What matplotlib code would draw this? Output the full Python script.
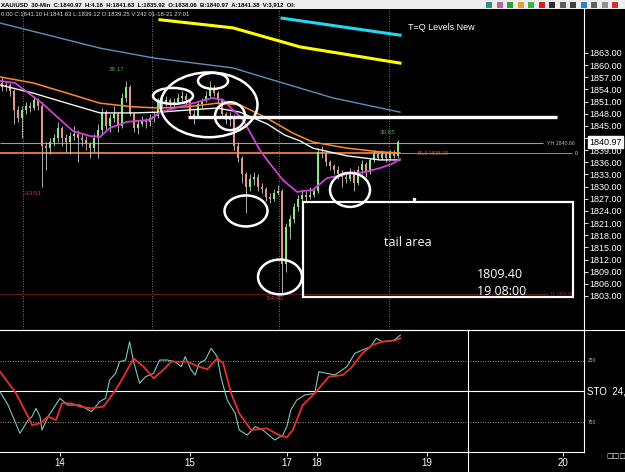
import matplotlib
matplotlib.use("Agg")
import matplotlib.pyplot as plt
import numpy as np
from matplotlib.patches import Ellipse, Rectangle
from matplotlib.lines import Line2D

plt.rcParams["font.family"] = ["Liberation Sans", "DejaVu Sans"]

# ----- XAU/USD 30-min candles (oldest first, bar index = position) -----
first_open = 1855.5
closes = [1854.5, 1855.0, 1853.5, 1849.0, 1847.0, 1849.0, 1850.0, 1849.5, 1851.5, 1850.0,
          1840.0, 1839.5, 1841.0, 1842.0, 1844.5, 1842.0, 1841.0, 1842.5, 1843.0, 1842.0,
          1841.5, 1840.5, 1839.5, 1842.0, 1844.0, 1848.5, 1845.0, 1847.0, 1848.0, 1845.0,
          1852.0, 1854.5, 1848.0, 1844.5, 1845.5, 1846.5, 1846.0, 1847.0, 1847.5, 1851.0,
          1850.5, 1851.5, 1850.5, 1851.0, 1852.0, 1852.5, 1851.5, 1848.0, 1847.5, 1850.5,
          1851.5, 1852.5, 1854.0, 1853.0, 1851.5, 1848.0, 1846.5, 1847.5, 1840.0, 1837.0,
          1833.0, 1830.0, 1832.0, 1832.5, 1830.0, 1829.5, 1827.5, 1827.0, 1828.5, 1829.0,
          1811.0, 1820.0, 1822.0, 1825.0, 1827.0, 1828.0, 1827.5, 1828.0, 1829.0, 1838.5,
          1838.0, 1836.0, 1835.0, 1834.0, 1833.0, 1832.5, 1832.0, 1833.5, 1831.0, 1834.0,
          1835.5, 1833.5, 1836.5, 1838.0, 1837.0, 1838.0, 1837.0, 1838.5, 1837.5, 1840.97]
highs = [1857.0, 1856.0, 1855.5, 1854.0, 1850.0, 1850.0, 1851.0, 1851.0, 1852.5, 1852.0,
         1851.0, 1841.0, 1842.0, 1843.0, 1846.0, 1845.0, 1843.0, 1843.5, 1845.0, 1844.0,
         1843.0, 1842.5, 1841.0, 1843.0, 1845.5, 1849.5, 1849.0, 1848.0, 1850.0, 1848.5,
         1853.0, 1856.0, 1855.0, 1848.5, 1846.5, 1847.5, 1847.0, 1848.0, 1848.5, 1852.0,
         1852.0, 1852.5, 1852.0, 1852.0, 1853.0, 1853.5, 1853.0, 1852.0, 1849.0, 1851.0,
         1852.0, 1853.5, 1856.0, 1855.0, 1853.5, 1852.0, 1848.5, 1848.5, 1848.0, 1841.0,
         1837.5, 1833.5, 1833.0, 1833.5, 1833.0, 1831.0, 1830.0, 1828.5, 1829.5, 1830.5,
         1829.5, 1821.0, 1823.0, 1826.0, 1828.0, 1829.5, 1829.0, 1830.0, 1830.0, 1839.5,
         1840.0, 1838.5, 1836.5, 1835.5, 1835.0, 1834.0, 1833.5, 1834.5, 1834.0, 1835.0,
         1836.5, 1836.0, 1837.0, 1839.0, 1838.5, 1839.0, 1838.5, 1839.0, 1839.0, 1841.63]
lows = [1853.5, 1853.5, 1852.5, 1845.5, 1846.0, 1842.0, 1848.0, 1848.5, 1849.0, 1849.0,
        1830.0, 1834.0, 1838.0, 1840.0, 1841.0, 1840.0, 1838.5, 1838.0, 1841.5, 1836.0,
        1840.0, 1839.0, 1837.0, 1838.5, 1837.0, 1843.0, 1844.0, 1843.5, 1846.0, 1843.5,
        1844.5, 1851.0, 1847.5, 1843.5, 1843.0, 1845.0, 1844.5, 1845.0, 1846.0, 1847.0,
        1849.5, 1850.0, 1849.5, 1849.5, 1850.5, 1851.0, 1850.5, 1847.5, 1845.5, 1847.0,
        1849.5, 1851.0, 1852.0, 1852.5, 1850.5, 1847.0, 1845.5, 1845.0, 1839.0, 1836.0,
        1831.0, 1823.5, 1829.0, 1830.5, 1829.0, 1828.5, 1826.5, 1826.0, 1826.5, 1828.0,
        1803.6, 1809.0, 1817.0, 1821.0, 1824.0, 1826.0, 1826.5, 1827.0, 1827.5, 1828.5,
        1837.0, 1835.0, 1834.0, 1833.0, 1832.0, 1830.0, 1831.0, 1831.5, 1829.0, 1830.5,
        1833.0, 1832.5, 1833.0, 1836.0, 1836.5, 1836.5, 1836.0, 1836.5, 1837.0, 1837.0]

# ----- moving averages (bar, price) -----
ma_fast_x = [-0.5, 3.25, 8.25, 10, 13.25, 17.75, 22, 24.5, 27, 31.25, 37, 39.5, 46.25, 52.75,
             55.25, 60.25, 64.5, 66.25, 70.25, 73.75, 77.75, 81.25, 86.25, 90.75, 94.5, 97.5, 99.5]
ma_fast = [1856.1, 1855.6, 1851.9, 1850.6, 1847.7, 1843.7, 1842.5, 1842.3, 1844.5, 1846.0,
           1846.5, 1848.4, 1850.2, 1851.9, 1851.4, 1846.5, 1839.0, 1836.6, 1831.6, 1828.7,
           1829.2, 1832.1, 1833.1, 1833.6, 1834.6, 1835.6, 1836.8]
ma_mid_x = [-0.5, 7.75, 16.25, 24.5, 32.75, 39.5, 46.25, 53.75, 59.5, 66.25, 70.75, 74.5,
            77.75, 86.25, 94.5, 99.5]
ma_mid = [1855.1, 1853.1, 1850.6, 1848.2, 1848.2, 1848.4, 1848.9, 1849.4, 1848.4, 1845.5,
          1842.7, 1841.3, 1839.5, 1837.6, 1836.6, 1836.6]
ma_slow_x = [-0.5, 7.75, 16.25, 24.5, 32.75, 39.5, 46.25, 53.75, 59.5, 66.25, 72.75, 77.75,
             86.25, 94.5, 99.5]
ma_slow = [1857.1, 1855.6, 1853.1, 1850.6, 1849.7, 1849.4, 1849.7, 1850.6, 1850.2, 1846.9,
           1843.2, 1841.0, 1839.5, 1838.6, 1838.3]
ma_long_x = [-0.5, 24.5, 37.75, 57.75, 69.5, 82.75, 99.5]
ma_long = [1870.4, 1864.2, 1861.8, 1859.3, 1855.8, 1851.9, 1848.4]
ma_yellow_x = [39.5, 57.75, 74.5, 99.5]
ma_yellow = [1871.2, 1869.2, 1864.5, 1860.5]
ma_cyan_x = [70, 99.5]
ma_cyan = [1871.6, 1867.4]

# ----- stochastic (bar, level; 0 at top) -----
sto_slow_x = [-0.5, 3.5, 6.5, 7.5, 9.5, 11.5, 13.5, 15, 17.4, 19.4, 22.4, 25.4, 28.4, 30.4,
              32.9, 35.4, 37.9, 40.3, 42.3, 46.3, 49.3, 51.3, 53.8, 55.3, 57.3, 59.3, 62.3,
              66.2, 69.2, 71.2, 72.7, 75.2, 78.2, 81.7, 85.2, 87.2, 90.1, 92.6, 95.1, 98.1, 99.6]
sto_slow = [341, 519, 710, 779, 765, 710, 738, 601, 601, 628, 642, 628, 492, 383, 232, 301,
            396, 328, 260, 260, 301, 322, 232, 273, 519, 683, 820, 806, 861, 880, 820, 615,
            519, 383, 369, 314, 191, 123, 96, 87, 68]
sto_fast_x = [-0.5, 1.5, 4.5, 6.5, 7.5, 8.5, 9.5, 10, 11.5, 14.5, 16.4, 19.4, 22.4, 24.4,
              25.9, 26.9, 28.4, 29.4, 30.9, 31.9, 32.9, 34.4, 35.9, 37.9, 39.4, 41.3, 43.3,
              44.8, 45.8, 47.3, 48.3, 49.3, 50.8, 52.3, 53.8, 54.8, 56.3, 58.3, 59.3, 61.3,
              63.3, 65.2, 68.2, 70.2, 71.2, 72.2, 73.7, 75.7, 78.2, 79.2, 81.2, 83.2, 86.2,
              88.2, 90.1, 92.1, 93.6, 95.1, 98.1, 99.6]
sto_fast = [505, 615, 847, 738, 710, 642, 710, 820, 710, 560, 615, 615, 669, 587, 560, 410,
            355, 260, 246, 96, 260, 437, 383, 355, 246, 246, 260, 301, 219, 328, 369, 273,
            246, 150, 219, 396, 574, 683, 820, 861, 792, 820, 902, 861, 792, 656, 574, 533,
            519, 342, 355, 369, 301, 191, 164, 137, 68, 96, 82, 41]

day_breaks = [5.25, 37.5, 69.25, 96.75]
day_ticks = [14.5, 47, 71.25, 78.75, 106.25, 140.25]
day_labels = ["14", "15", "17", "18", "19", "20"]
price_ticks = np.arange(1803, 1864, 3)

W, H = 625, 472


def fy(py):
    return 1 - py / H


fig = plt.figure(figsize=(W / 100, H / 100), dpi=100, facecolor="black")
ax = fig.add_axes([0, fy(329), 584 / W, 320 / H], facecolor="black")
ax2 = fig.add_axes([0, fy(452), 584 / W, 122 / H], facecolor="black")
XL = (-0.5, 145.5)

# ---------------- main price panel ----------------
opens = [first_open] + closes[:-1]
idx = np.arange(len(closes))
o = np.array(opens)
c = np.array(closes)
up = c >= o
ax.vlines(idx, lows, highs, color="#c8c8c8", lw=0.6, zorder=3)
cols = np.where(up, "#86ea86", "#e2968e")
ax.bar(idx, np.maximum(np.abs(c - o), 0.25), bottom=np.minimum(o, c), width=0.7,
       color=cols, zorder=4)

for xb in day_breaks:
    ax.axvline(xb, color="#999999", lw=0.6, ls=(0, (1, 2)), zorder=1)

ax.plot(ma_long_x, ma_long, color="#5f8fbf", lw=1.0, zorder=2)
ax.plot(ma_yellow_x, ma_yellow, color="#ffff00", lw=2.2, zorder=2)
ax.plot(ma_cyan_x, ma_cyan, color="#22d8f0", lw=2.2, zorder=2)
ax.plot(ma_slow_x, ma_slow, color="#ff8a2a", lw=1.1, zorder=5)
ax.plot(ma_mid_x, ma_mid, color="#f4f4f4", lw=1.0, zorder=5)
ax.plot(ma_fast_x, ma_fast, color="#d040d8", lw=1.3, zorder=6)

# level lines
ax.hlines(1840.66, XL[0], 135.25, color="#a8a08a", lw=0.8, zorder=2)
ax.text(136.3, 1840.66, "YH 1840.66", color="#bbbbbb", fontsize=3.8, va="center")
ax.hlines(1838.3, XL[0], 99.5, color="#ff8c3a", lw=1.2, zorder=2)
ax.hlines(1838.3, 99.5, 142.5, color="#9a9070", lw=0.7, zorder=2)
ax.text(104, 1838.3, "BL3 1838.15", color="#a86a40", fontsize=3.8, va="center")
ax.text(143.3, 1838.3, "0", color="#dddddd", fontsize=3.8, va="center")
ax.hlines(1847.2, 46.5, 138.75, color="white", lw=2.4, zorder=7)
ax.hlines(1803.5, XL[0], 136.5, color="#6a1515", lw=0.8, zorder=2)
ax.text(137, 1803.5, "YL 1803.40", color="#b03030", fontsize=3.2, va="center")

# value tags
ax.text(28.75, 1858.8, "28.17", color="#4fb04f", fontsize=4.5, ha="center", va="center")
ax.text(7.75, 1828.2, "-33.51", color="#c04040", fontsize=4.5, ha="center", va="center")
ax.text(68.25, 1802.3, "-54.40", color="#c04040", fontsize=4.5, ha="center", va="center")
ax.text(96.5, 1843.3, "30.65", color="#4fb04f", fontsize=4.5, ha="center", va="center")
ax.text(101.5, 1869.4, "T=Q Levels New", color="white", fontsize=6.5, va="center")

# drawn circles
circles = [(51.75, 1850.2, 24.25, 16.0), (42.75, 1852.4, 10.0, 3.95),
           (52.75, 1856.1, 7.5, 3.95), (57.0, 1847.4, 7.5, 6.9),
           (61.0, 1824.0, 10.75, 7.65), (69.5, 1807.7, 11.0, 8.6),
           (87.0, 1829.2, 10.0, 8.4)]
for cx, cy, w, h in circles:
    ax.add_patch(Ellipse((cx, cy), w, h, fill=False, ec="white", lw=1.8, zorder=8))

ax.add_patch(Rectangle((75.25, 1802.75), 67.5, 23.46, fill=False, ec="white",
                       lw=1.6, zorder=8))
ax.text(101.5, 1816.3, "tail area", color="white", fontsize=9, ha="center",
        va="center", family="Open Sans")
ax.text(118.75, 1808.2, "1809.40", color="white", fontsize=9, va="center",
        family="Open Sans")
ax.text(118.75, 1804.0, "19 08:00", color="white", fontsize=9, va="center",
        family="Open Sans")
ax.plot([103], [1827.0], "o", color="white", ms=1.5, zorder=8)

ax.set_xlim(*XL)
ax.set_ylim(1794.85, 1873.86)
ax.set_xticks([])
ax.yaxis.tick_right()
ax.set_yticks(price_ticks)
ax.set_yticklabels([f"{v:.2f}" for v in price_ticks])
ax.tick_params(axis="y", colors="white", labelsize=6.5, length=3, width=0.6, pad=1)
for s in ["top", "left", "bottom"]:
    ax.spines[s].set_visible(False)
ax.spines["right"].set_color("white")
ax.spines["right"].set_linewidth(0.8)

ax.annotate("1840.97", xy=(1.0, 1840.97), xycoords=("axes fraction", "data"),
            xytext=(4, 0), textcoords="offset points", color="black", fontsize=6.5,
            va="center", ha="left",
            bbox=dict(boxstyle="square,pad=0.15", fc="white", ec="white"))

# ---------------- stochastic panel ----------------
ax2.axhline(500, color="white", lw=0.8)
ax2.axhline(250, color="#cccccc", lw=0.6, ls=(0, (1, 2)))
ax2.axhline(750, color="#cccccc", lw=0.6, ls=(0, (1, 2)))
ax2.plot(sto_fast_x, sto_fast, color="#7ac8b8", lw=0.8)
ax2.plot(sto_slow_x, sto_slow, color="#e8302a", lw=1.3)
ax2.set_xlim(*XL)
ax2.set_ylim(1000, 0)
ax2.yaxis.tick_right()
ax2.set_yticks([250, 750])
ax2.set_yticklabels(["250", "750"])
ax2.tick_params(axis="y", colors="#bbbbbb", labelsize=3.5, length=0, pad=3)
ax2.set_xticks(day_ticks)
ax2.set_xticklabels(day_labels)
ax2.tick_params(axis="x", colors="white", labelsize=7, length=3, width=0.6, pad=1)
ax2.spines["left"].set_visible(False)
for s in ["top", "bottom", "right"]:
    ax2.spines[s].set_color("white")
    ax2.spines[s].set_linewidth(0.8)

# ---------------- frame decorations ----------------
fig.add_artist(Rectangle((0, fy(9)), 1, 9 / H, transform=fig.transFigure,
                         fc="#ececec", ec="none"))
fig.text(0.002, fy(4.5), "XAU/USD  30-Min  C:1840.97  H:4.16  H:1841.63  L:1835.92  "
         "O:1838.06  B:1840.97  A:1841.38  V:3,912  OI:", color="black",
         fontsize=4.3, va="center", fontweight="bold")
icon_cols = ["#3a8a8a", "#c060a0", "#30a030", "#e0a030", "#40b040", "#d02020",
             "#303030", "#606060", "#404040", "#3080c0", "#606060", "#909090", "#d03030"]
for k, col in enumerate(icon_cols):
    fig.add_artist(Rectangle(((486 + k * 10.5) / W, fy(7.5)), 6 / W, 6 / H,
                             transform=fig.transFigure, fc=col, ec="none"))
fig.text(0.002, fy(14.5), "0:00 C:1841.10 H:1841.63 L:1839.12 O:1839.25 V:242 "
         "01-18-21 27:01", color="#dddddd", fontsize=4.3, va="center")
fig.add_artist(Line2D([0, 1], [fy(329.5), fy(329.5)], transform=fig.transFigure,
                      color="white", lw=0.8))
fig.add_artist(Line2D([468 / W, 468 / W], [0, fy(330)], transform=fig.transFigure,
                      color="white", lw=0.8))
fig.text(587 / W, fy(391), "STO  24,", color="white", fontsize=7, va="center")
fig.text(606 / W, fy(456), "\u25a1\u25a1\u25a1", color="white", fontsize=5,
         va="center", family="DejaVu Sans")

fig.savefig("out.png", dpi=100, facecolor="black")
